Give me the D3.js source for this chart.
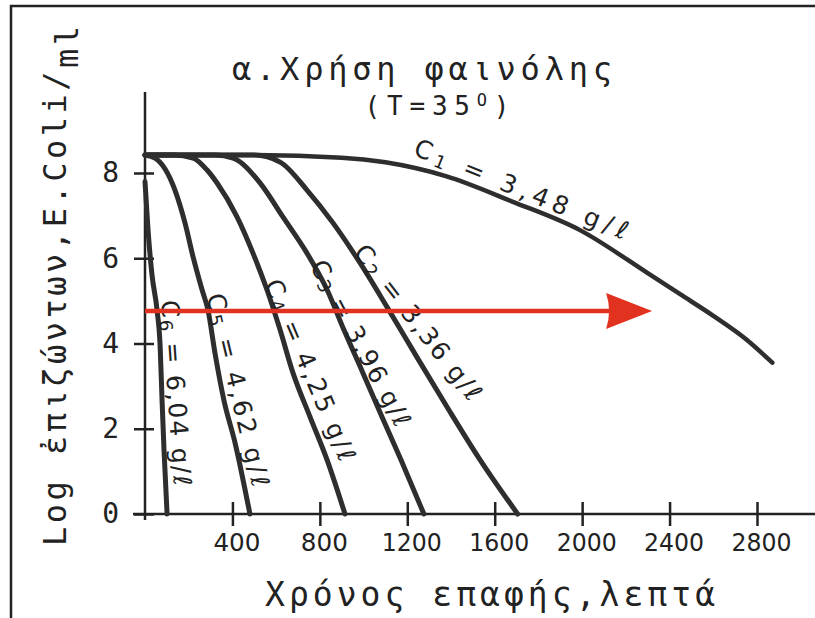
<!DOCTYPE html>
<html>
<head>
<meta charset="utf-8">
<script src="https://cdn.jsdelivr.net/npm/d3@7"></script>
<style>
  html, body { margin: 0; padding: 0; background: #fff; }
  svg { display: block; }
</style>
</head>
<body>
<svg id="chart" width="815" height="618"></svg>
<script>
// Survival of E. coli under phenol at 35°: contact time (minutes) vs log survivors per ml
const seriesNames = ["1", "2", "3", "4", "5", "6"];
const concentrations = ["3,48", "3,36", "3,96", "4,25", "4,62", "6,04"];

const c1Time = [0, 500, 900, 1100, 1380, 1680, 1990, 2300, 2450, 2600, 2750, 2870];
const c1Log  = [8.42, 8.42, 8.36, 8.25, 7.92, 7.33, 6.66, 5.65, 5.15, 4.65, 4.1, 3.55];

const c2Time = [0, 500, 620, 741, 860, 984, 1107, 1244, 1382, 1533, 1705];
const c2Log  = [8.42, 8.42, 8.25, 7.6, 6.83, 5.89, 4.86, 3.68, 2.51, 1.27, 0];

const c3Time = [0, 320, 403, 526, 631, 741, 833, 910, 997, 1084, 1171, 1276];
const c3Log  = [8.42, 8.42, 8.35, 7.77, 6.97, 6.12, 5.26, 4.32, 3.31, 2.28, 1.27, 0];

const c4Time = [0, 130, 220, 284, 329, 421, 494, 558, 618, 677, 755, 833, 915];
const c4Log  = [8.42, 8.42, 8.35, 8.07, 7.77, 6.97, 6.12, 5.26, 4.32, 3.31, 2.28, 1.27, 0];

const c5Time = [0, 46, 137, 183, 220, 261, 288, 320, 361, 412, 480];
const c5Log  = [8.42, 8.35, 7.6, 6.83, 6.03, 5.26, 4.79, 3.78, 2.67, 1.67, 0];

const c6Time = [0, 14, 32, 55, 69, 78, 87, 101];
const c6Log  = [7.8, 6.66, 5.61, 4.79, 3.96, 2.67, 1.5, 0];

const xTicks = [400, 800, 1200, 1600, 2000, 2400, 2800];
const yTicks = [0, 2, 4, 6, 8];

// Horizontal reference arrow (log level, end time)
const arrowLevel = 4.76;
const arrowEndTime = 2320;

const W = 815, H = 618;
const svg = d3.select("#chart");

const x = d3.scaleLinear().domain([0, 2800]).range([145, 757]);
const y = d3.scaleLinear().domain([0, 8]).range([514, 173]);

const ink = "#222";
const curveInk = "#2e2e2e";
const mono = "'DejaVu Sans Mono', 'Liberation Mono', monospace";
const hand = "'DejaVu Sans', sans-serif";

// Page frame
svg.append("rect")
  .attr("x", 11).attr("y", 6)
  .attr("width", W + 20).attr("height", H + 20)
  .attr("fill", "none").attr("stroke", ink).attr("stroke-width", 2.5);

// Title
svg.append("text")
  .attr("x", 422).attr("y", 80)
  .attr("text-anchor", "middle")
  .attr("font-family", mono).attr("font-size", 32).attr("fill", ink)
  .attr("textLength", 380).attr("lengthAdjust", "spacing")
  .text("α.Χρήση φαινόλης");

const sub = svg.append("text")
  .attr("x", 437).attr("y", 115)
  .attr("text-anchor", "middle")
  .attr("font-family", mono).attr("font-size", 26).attr("fill", ink)
  .attr("textLength", 145).attr("lengthAdjust", "spacing");
sub.append("tspan").text("(T=35");
sub.append("tspan").attr("dy", -9).attr("font-size", 17).text("O");
sub.append("tspan").attr("dy", 9).text(")");

// X axis
const xAxis = svg.append("g")
  .attr("transform", `translate(0,${y(0)})`)
  .call(d3.axisBottom(x).tickValues(xTicks).tickSizeInner(12).tickSizeOuter(0).tickFormat(d3.format("d")));
xAxis.select(".domain").remove();
xAxis.selectAll(".tick line")
  .attr("y1", -12).attr("y2", 12)
  .attr("stroke", ink).attr("stroke-width", 2.5);
xAxis.selectAll(".tick text")
  .attr("y", 37).attr("dy", 0).attr("dx", 4)
  .attr("font-family", hand).attr("font-size", 24).attr("fill", ink)
  .attr("textLength", d => d >= 1000 ? 60 : 47).attr("lengthAdjust", "spacingAndGlyphs");
svg.append("line")
  .attr("x1", x(0) - 12).attr("x2", W)
  .attr("y1", y(0)).attr("y2", y(0))
  .attr("stroke", ink).attr("stroke-width", 2.5);

// Y axis
const yAxis = svg.append("g")
  .attr("transform", `translate(${x(0)},0)`)
  .call(d3.axisLeft(y).tickValues(yTicks).tickSizeInner(11).tickSizeOuter(0).tickFormat(d3.format("d")));
yAxis.select(".domain").remove();
yAxis.selectAll(".tick line")
  .attr("x1", 9).attr("x2", -11)
  .attr("stroke", ink).attr("stroke-width", 2.5);
yAxis.selectAll(".tick text")
  .attr("x", -26)
  .attr("font-family", mono).attr("font-size", 28).attr("fill", ink);
svg.append("line")
  .attr("x1", x(0)).attr("x2", x(0))
  .attr("y1", y(0) + 6).attr("y2", y(9.9))
  .attr("stroke", ink).attr("stroke-width", 2.5);

// Axis titles
const yTitle = svg.append("text")
  .attr("transform", `translate(66,286) rotate(-90)`)
  .attr("text-anchor", "middle")
  .attr("font-family", mono).attr("font-size", 32).attr("fill", ink)
  .attr("textLength", 520).attr("lengthAdjust", "spacing");
yTitle.append("tspan").text("Log ἐπιζώντων,E.Coli/");
yTitle.append("tspan").attr("dy", 12).text("ml");

svg.append("text")
  .attr("x", 490).attr("y", 606)
  .attr("text-anchor", "middle")
  .attr("font-family", mono).attr("font-size", 33).attr("fill", ink)
  .attr("textLength", 450).attr("lengthAdjust", "spacing")
  .text("Χρόνος επαφής,λεπτά");

// Survival curves
const series = [
  { time: c1Time, log: c1Log, width: 4.5 },
  { time: c2Time, log: c2Log, width: 5 },
  { time: c3Time, log: c3Log, width: 5 },
  { time: c4Time, log: c4Log, width: 5 },
  { time: c5Time, log: c5Log, width: 5 },
  { time: c6Time, log: c6Log, width: 5 }
];
const line = d3.line()
  .x(d => x(d[0]))
  .y(d => y(d[1]))
  .curve(d3.curveMonotoneX);

svg.append("g").selectAll("path")
  .data(series)
  .join("path")
  .attr("d", s => line(d3.zip(s.time, s.log)))
  .attr("fill", "none")
  .attr("stroke", curveInk)
  .attr("stroke-width", s => s.width)
  .attr("stroke-linecap", "round")
  .attr("stroke-linejoin", "round");

// Concentration labels written along each curve (centre in data units, angle in degrees, length in px)
const labelLayout = [
  { t: 1722, v: 7.63, angle: 22, len: 228 },
  { t: 1250, v: 4.50, angle: 52, len: 190 },
  { t: 988,  v: 4.01, angle: 62, len: 185 },
  { t: 757,  v: 3.38, angle: 67, len: 195 },
  { t: 427,  v: 2.91, angle: 76.5, len: 198 },
  { t: 144,  v: 2.84, angle: 86, len: 186 }
];
const labels = svg.append("g").selectAll("text")
  .data(labelLayout)
  .join("text")
  .attr("transform", d => `translate(${x(d.t)},${y(d.v)}) rotate(${d.angle})`)
  .attr("text-anchor", "middle")
  .attr("dominant-baseline", "central")
  .attr("font-family", hand).attr("font-size", 25).attr("fill", ink)
  .attr("textLength", d => d.len).attr("lengthAdjust", "spacing");
labels.append("tspan").text("C");
labels.append("tspan").attr("dy", 5).attr("font-size", 18).text((d, i) => seriesNames[i]);
labels.append("tspan").attr("dy", -5).text((d, i) => ` = ${concentrations[i]} g/ℓ`);

// Red reference arrow
const red = "#e1321f";
const ay = y(arrowLevel);
const tip = x(arrowEndTime);
svg.append("line")
  .attr("x1", x(0)).attr("x2", tip - 38)
  .attr("y1", ay).attr("y2", ay)
  .attr("stroke", red).attr("stroke-width", 4.5);
svg.append("path")
  .attr("d", `M${tip},${ay} L${tip - 46},${ay - 18} Q${tip - 40},${ay} ${tip - 46},${ay + 18} Z`)
  .attr("fill", red);
</script>
</body>
</html>
